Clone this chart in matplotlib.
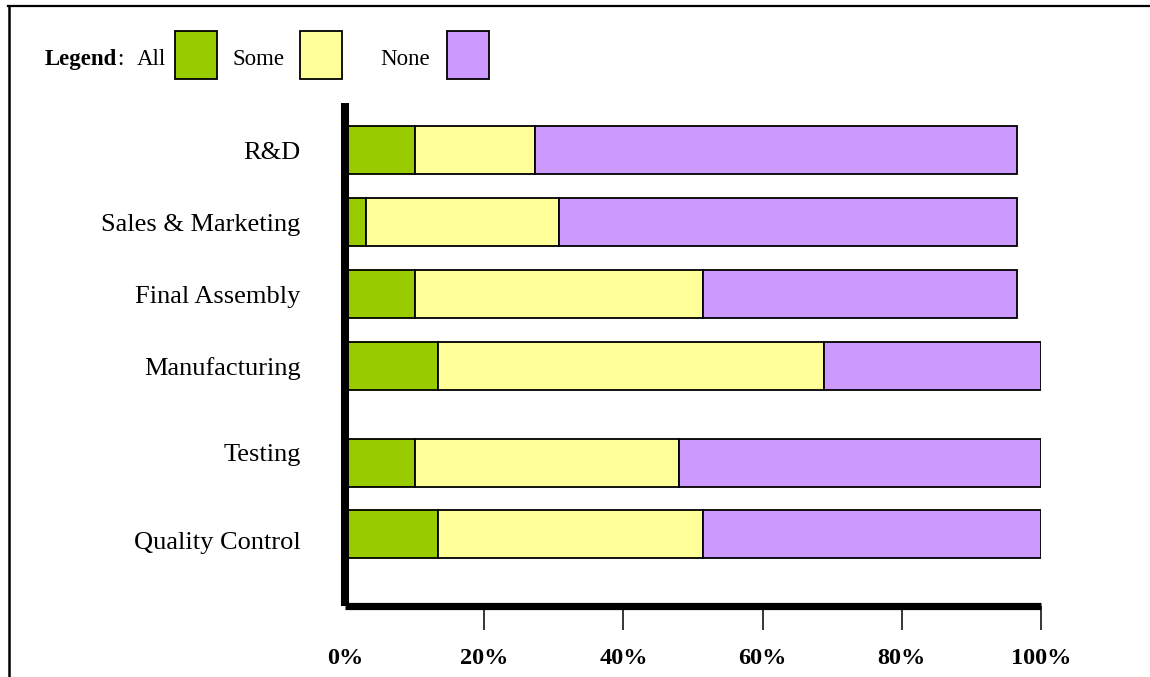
import numpy as np
import matplotlib
matplotlib.use("Agg")
import matplotlib.pyplot as plt
from matplotlib.patches import Rectangle
from matplotlib.lines import Line2D

# Dados (percentuais por departamento), de cima para baixo
categories = ["R&D", "Sales & Marketing", "Final Assembly",
              "Manufacturing", "Testing", "Quality Control"]
all_pct = [10, 3, 10, 13.4, 10, 13.4]
some_pct = [17.3, 27.7, 41.5, 55.4, 38, 38.1]
none_pct = [69.2, 65.8, 45, 31.2, 52, 48.5]
series_names = ["All", "Some", "None"]
tick_values = [0, 20, 40, 60, 80, 100]
tick_labels = ["0%", "20%", "40%", "60%", "80%", "100%"]

colors = ["#99CC00", "#FFFF99", "#CC99FF"]

# Posicoes das linhas (ha um espaco maior antes de "Testing")
rows = [0, 1, 2, 3, 4.34, 5.33]
label_rows = [0, 1, 2, 3, 4.2, 5.42]

W, H = 1150, 677
plt.rcParams['font.family'] = ['Liberation Serif', 'DejaVu Serif']

fig = plt.figure(figsize=(W / 100, H / 100), dpi=100)
ax = fig.add_axes([345 / W, 1 - 606 / H, (1041 - 345) / W, (606 - 103) / H])

left = np.zeros(len(categories))
for vals, col, name in zip([all_pct, some_pct, none_pct], colors, series_names):
    ax.barh(rows, vals, left=left, height=0.667, color=col,
            edgecolor="black", linewidth=1.3, label=name, zorder=2)
    left = left + np.array(vals)

ax.set_xlim(0, 100)
ax.set_ylim(6.33, -0.66)

ax.set_xticks(tick_values)
ax.set_xticklabels(tick_labels, fontsize=17.5, fontweight="bold")
ax.tick_params(axis="x", direction="out", length=17, width=1.1, pad=13)
# sem marca no 0%
ax.xaxis.get_major_ticks()[0].tick1line.set_visible(False)
ax.set_yticks(label_rows)
ax.set_yticklabels(categories, fontsize=19)
ax.tick_params(axis="y", length=0, pad=32)

for s in ["top", "right"]:
    ax.spines[s].set_visible(False)
ax.spines["left"].set_linewidth(5.8)
ax.spines["bottom"].set_linewidth(5.2)
for s in ["left", "bottom"]:
    ax.spines[s].set_zorder(3)
    ax.spines[s].set_capstyle("butt")

# Moldura parcial (topo e esquerda)
fig.add_artist(Line2D([8 / W, 1], [1 - 6 / H, 1 - 6 / H], color="black", lw=1.6))
fig.add_artist(Line2D([9 / W, 9 / W], [0, 1 - 6 / H], color="black", lw=1.8))

# Legenda manual
ty = 1 - 65 / H
fig.text(45 / W, ty, "Legend", fontsize=16.5, fontweight="bold", va="baseline")
fig.text(117 / W, ty, ":", fontsize=16.5, va="baseline")
fig.text(166 / W, ty, "All", fontsize=16.5, va="baseline", ha="right")
fig.text(233 / W, ty, "Some", fontsize=16.5, va="baseline")
fig.text(380 / W, ty, "None", fontsize=16.5, va="baseline")
for x0, col in zip([175, 300, 447], colors):
    fig.add_artist(Rectangle((x0 / W, 1 - 79 / H), 42 / W, 48 / H,
                             facecolor=col, edgecolor="black", lw=1.3,
                             transform=fig.transFigure))

fig.savefig("out.png", dpi=100)
